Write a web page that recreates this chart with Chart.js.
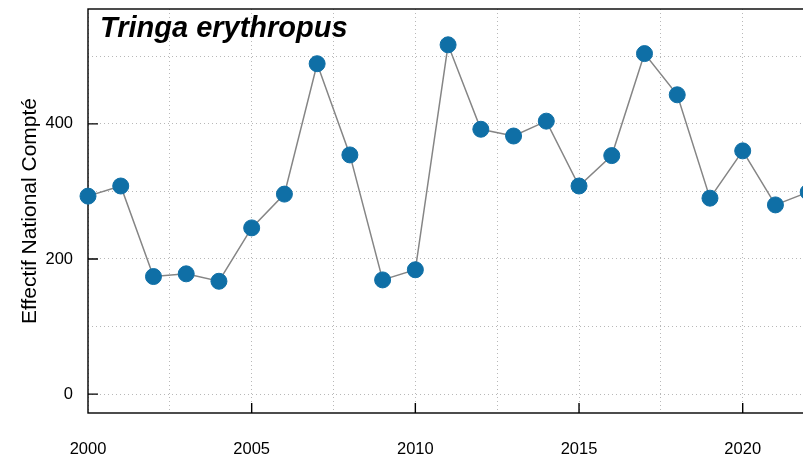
<!DOCTYPE html>
<html>
<head>
<meta charset="utf-8">
<script src="https://cdn.jsdelivr.net/npm/chart.js@4"></script>
<style>
  html, body { margin:0; padding:0; background:#fff; overflow:hidden; }
  #wrap { width:845px; height:458px; }
</style>
</head>
<body>
<div id="wrap"><canvas id="myLine" width="845" height="458"></canvas></div>
<script>
//global var
var years = [2000,2001,2002,2003,2004,2005,2006,2007,2008,2009,2010,2011,2012,2013,2014,2015,2016,2017,2018,2019,2020,2021,2022]
var counts = [293,308,174,178,167,246,296,489,354,169,184,517,392,382,404,308,353,504,443,290,360,280,299]
var xTickLabels = [2000,2005,2010,2015,2020]
var yTickLabels = [0,200,400]
var xGridStep = 2.5
var yGridStep = 100
var speciesName = "Tringa erythropus"
var yTitle = "Effectif National Compté"

var fontName = "'Liberation Sans', Arial, sans-serif"
var gridDots = "#b8b8b8"

// frame, inward ticks and species name
var framePlugin = {
    id: "frame",
    beforeDatasetsDraw: function(chart){
        var ctx = chart.ctx
        var a = chart.chartArea
        var xs = chart.scales.x
        var ys = chart.scales.y
        ctx.save()
        ctx.strokeStyle = "#000"
        ctx.lineWidth = 1.4
        ctx.strokeRect(a.left, a.top, a.right - a.left, a.bottom - a.top)
        ctx.beginPath()
        yTickLabels.forEach(function(v){
            var py = ys.getPixelForValue(v)
            ctx.moveTo(a.left, py)
            ctx.lineTo(a.left + 10, py)
        })
        xTickLabels.forEach(function(v){
            if(v == xs.min) return
            var px = xs.getPixelForValue(v)
            ctx.moveTo(px, a.bottom)
            ctx.lineTo(px, a.bottom - 10)
        })
        ctx.stroke()
        // species name
        ctx.fillStyle = "#000"
        ctx.font = "italic bold 29px " + fontName
        ctx.textBaseline = "alphabetic"
        ctx.textAlign = "left"
        ctx.fillText(speciesName, a.left + 12, a.top + 28)
        ctx.restore()
    }
}

// build regular grid ticks from the axis range
function gridTicks(step){
    return function(s){
        var t = []
        var v = Math.ceil(s.min / step) * step
        for(; v <= s.max; v += step){
            t.push({value: v})
        }
        s.ticks = t
    }
}

function noPad(w, h){
    return function(s){
        if(w) s.width = w
        if(h) s.height = h
        s.paddingTop = 0
        s.paddingBottom = 0
        s.paddingLeft = 0
        s.paddingRight = 0
    }
}

function drawChart(canvas_id){
    var element = document.getElementById(canvas_id)
    var points = years.map(function(y, i){
        return {x: y, y: counts[i]}
    })

    //create chart.js object
    var chart = new Chart(element, {
        type: "line",
        data: {
            datasets: [
                {
                    label: speciesName,
                    data: points,
                    borderColor: "#858585",
                    borderWidth: 1.5,
                    pointRadius: 8,
                    pointBorderWidth: 1,
                    pointBackgroundColor: "#0f6fa6",
                    pointBorderColor: "#0f6fa6",
                    tension: 0,
                    clip: false
                }
            ]
        },
        options: {
            responsive: false,
            animation: false,
            layout: { padding: { top: 9, right: 0, left: 0, bottom: 0 } },
            plugins: {
                legend: { display: false },
                tooltip: { enabled: false }
            },
            scales: {
                x: {
                    type: "linear",
                    min: 2000,
                    max: 2022.85,
                    afterBuildTicks: gridTicks(xGridStep),
                    afterFit: noPad(0, 45),
                    grid: {
                        drawTicks: false,
                        color: gridDots,
                        lineWidth: 1
                    },
                    border: { display: false, dash: [1, 3] },
                    ticks: {
                        padding: 27,
                        color: "#000",
                        font: { family: fontName, size: 16.5 },
                        maxRotation: 0,
                        autoSkip: false,
                        callback: function(v){
                            return xTickLabels.indexOf(v) >= 0 ? String(v) : ""
                        }
                    }
                },
                y: {
                    min: -28,
                    max: 570,
                    afterBuildTicks: gridTicks(yGridStep),
                    afterFit: noPad(88, 0),
                    grid: {
                        drawTicks: false,
                        color: gridDots,
                        lineWidth: 1
                    },
                    border: { display: false, dash: [1, 3] },
                    title: {
                        display: true,
                        text: yTitle,
                        color: "#000",
                        font: { family: fontName, size: 21 },
                        padding: { top: 18, bottom: 0 }
                    },
                    ticks: {
                        padding: 15,
                        color: "#000",
                        font: { family: fontName, size: 16.5 },
                        autoSkip: false,
                        callback: function(v){
                            return yTickLabels.indexOf(v) >= 0 ? String(v) : ""
                        }
                    }
                }
            }
        },
        plugins: [framePlugin]
    })
    return chart
}

drawChart("myLine")
</script>
</body>
</html>
